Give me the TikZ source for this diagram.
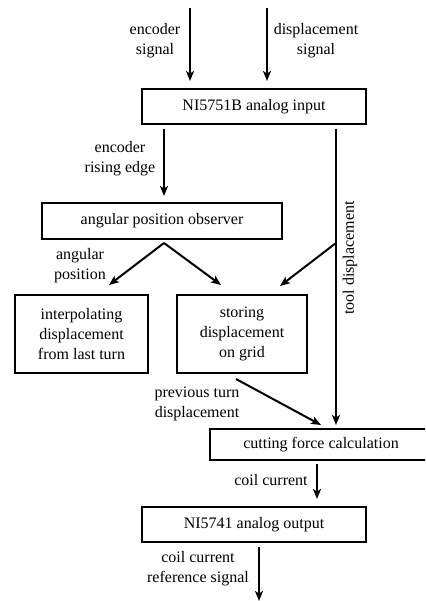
\documentclass[tikz,border=0pt]{standalone}
\usepackage{fontspec}
\setmainfont{Liberation Serif}
\usetikzlibrary{arrows.meta,calc}
\begin{document}
\begin{tikzpicture}[x=1pt,y=-1pt,
  font=\fontsize{16}{20}\selectfont,
  blk/.style={draw,line width=2pt,inner sep=0pt,align=center},
  lbl/.style={align=center,inner sep=0pt},
  arr/.style={line width=2pt,-{Stealth[length=10pt,width=8pt,inset=2.5pt]}}]
\useasboundingbox (0,0) rectangle (425,601);
\clip (0,0) rectangle (425,601);
% blocks
\node[blk,minimum width=224pt,minimum height=35pt] (in1) at (254,106.5) {NI5751B analog input};
\node[blk,minimum width=240pt,minimum height=36pt] (obs) at (162,221) {angular position observer};
\node[blk,minimum width=133pt,minimum height=78pt] (interp) at (81.5,334) {interpolating\\displacement\\from last turn};
\node[blk,minimum width=130pt,minimum height=78pt] (store) at (242,334) {storing\\displacement\\on grid};
\node[blk,minimum width=222pt,minimum height=31pt] (cut) at (321,444.5) {cutting force calculation};
\node[blk,minimum width=224pt,minimum height=35pt] (out) at (254,524.5) {NI5741 analog output};
% free ends
\coordinate (encin) at (190,8);
\coordinate (dispin) at (267,8);
\coordinate (re) at (164,0);
\coordinate (tl) at (336,0);
\coordinate (tb) at (336,243);
\coordinate (cc) at (317,0);
\coordinate (outend) at (259,601);
% connectors
\draw[arr,shorten >=7pt] (encin) -- (in1.north -| encin);
\draw[arr,shorten >=7pt] (dispin) -- (in1.north -| dispin);
\draw[arr,shorten <=4pt,shorten >=6pt] (in1.south -| re) -- (obs.north -| re);
\draw[arr,shorten <=4pt,shorten >=3pt] (in1.south -| tl) -- (cut.north -| tl);
\draw[arr] (tb) -- ($(store.north)+(38,-8)$);
\draw[arr] ($(obs.south)+(2,3)$) -- ($(interp.north)+(27.5,-9)$);
\draw[arr] ($(obs.south)+(2,3)$) -- ($(store.north)+(-21,-9)$);
\draw[arr] ($(store.south)+(-6,5)$) -- ($(cut.north)+(0,-3)$);
\draw[arr,shorten <=3pt,shorten >=7pt] (cut.south -| cc) -- (out.north -| cc);
\draw[arr,shorten <=4pt] (out.south -| outend) -- (outend);
% labels
\node[lbl] (l1) at (155,41) {encoder\\signal};
\node[lbl] (l2) at (316,41) {displacement\\signal};
\node[lbl] (l3) at (120,159) {encoder\\rising edge};
\node[lbl] (l4) at (80,266) {angular\\position};
\node[lbl,rotate=90] (l5) at (350,258) {tool displacement};
\node[lbl] (l6) at (197,404) {previous turn\\displacement};
\node[lbl] (l7) at (271,480) {coil current};
\node[lbl] (l8) at (198,569) {coil current\\reference signal};
\end{tikzpicture}
\end{document}
